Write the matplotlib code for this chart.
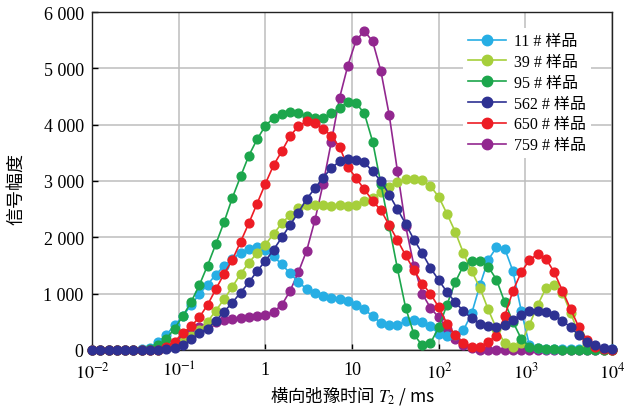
import numpy as np
import matplotlib
matplotlib.use("Agg")
import matplotlib.pyplot as plt
from matplotlib.lines import Line2D
from matplotlib.ticker import FixedLocator, FuncFormatter, NullLocator

plt.rcParams["mathtext.fontset"] = "stix"
SERIF = ["Liberation Serif", "DejaVu Serif"]
CJK = ["Noto Sans CJK SC", "DejaVu Sans"]

# T2 bins: 64 points, evenly spaced in log from 0.01 ms to 10^4 ms
t2 = np.logspace(-2, 4, 64)

s11 = [0, 0, 0, 0, 0, 0, 10,
       40, 140, 270, 440, 600, 800, 990, 1160, 1340, 1490, 1610, 1730, 1800,
       1830, 1780, 1660, 1520, 1360, 1210, 1080, 1010, 960, 930, 910, 870,
       800, 720, 600, 480, 450, 450, 510, 540, 500, 420, 290, 250, 260, 350,
       650, 1150, 1600, 1820, 1800, 1400, 700, 80,
       30, 20, 20, 20, 20, 20, 20, 20, 20, 20]
s39 = [0, 0, 0, 0, 0, 0, 0, 0, 0,
       30, 70, 150, 250, 350, 500, 700, 900, 1120, 1350, 1550, 1720, 1870,
       2060, 2250, 2400, 2520, 2580, 2580, 2570, 2560, 2580, 2560, 2580,
       2640, 2700, 2800, 2900, 2980, 3030, 3040, 3010, 2910, 2720, 2420,
       2100, 1720, 1400, 1100, 720, 380, 120, 50, 120, 450, 800, 1100, 1150,
       1020, 650, 280, 90, 20, 0, 0]
s95 = [0, 0, 0, 0, 0, 0, 0,
       20, 80, 200, 380, 600, 850, 1150, 1500, 1880, 2270, 2700, 3080, 3450,
       3740, 3980, 4120, 4190, 4220, 4210, 4150, 4110, 4110, 4200, 4300,
       4400, 4380, 4200, 3700, 2950, 2200, 1450, 750, 280, 80, 120, 400,
       800, 1200, 1500, 1580, 1580, 1480, 1250, 850, 500, 200, 60,
       30, 20, 10, 0, 0, 0, 0, 0, 0, 0]
s562 = [0, 0, 0, 0, 0, 0, 0, 0, 0,
        20, 40, 80, 190, 300, 380, 520, 680, 840, 1020, 1200, 1400, 1580,
        1780, 2000, 2220, 2440, 2680, 2870, 3060, 3230, 3350, 3390, 3380,
        3330, 3170, 3000, 2760, 2500, 2240, 1960, 1720, 1460, 1240, 1030,
        850, 690, 560, 470, 420, 410, 450, 540, 620, 690, 700, 680, 620, 520,
        400, 260, 150, 80, 40, 20]
s650 = [0, 0, 0, 0, 0, 0, 0, 0, 0,
        60, 150, 300, 420, 580, 800, 1080, 1350, 1600, 1920, 2250, 2600,
        2950, 3280, 3530, 3800, 3970, 4060, 4030, 3930, 3800, 3600, 3250,
        3050, 2850, 2650, 2480, 2220, 1950, 1680, 1420, 1180, 1000, 760, 470,
        270, 120, 60, 50, 150, 250, 600, 1050, 1380, 1600, 1700, 1620, 1380,
        1050, 720, 400, 180, 60, 10, 0]
s759 = [0, 0, 0, 0, 0, 0, 0, 0,
        20, 60, 120, 220, 320, 400, 450, 500, 530, 550, 570, 590, 600, 620,
        680, 800, 1050, 1380, 1760, 2300, 2950, 3700, 4480, 5050, 5500, 5660,
        5480, 4950, 4180, 3180, 2200, 1500, 1000, 750, 580, 380, 200, 80, 30,
        0, 0, 0, 0, 0, 0, 0, 0, 0, 0, 0, 0, 0, 0, 0, 0, 0]

labels = ["11 # 样品", "39 # 样品", "95 # 样品", "562 # 样品", "650 # 样品", "759 # 样品"]
series = [s11, s39, s95, s562, s650, s759]
colors = ["#27aee4", "#a6cf3b", "#1ca64c", "#2e3192", "#ed1c24", "#92278f"]
zorders = [4, 5, 6, 8, 7, 3]

fig = plt.figure(figsize=(6.24, 4.14), dpi=100)
ax = fig.add_axes([92 / 624, 1 - 351 / 414, 520 / 624, 338 / 414])

handles = []
for y, c, z, lab in zip(series, colors, zorders, labels):
    ax.plot(t2, y, "-o", color=c, lw=1.2, ms=6.3, mec=c, clip_on=False, zorder=z)
    handles.append(Line2D([], [], color=c, lw=1.2, marker="o", ms=7.5, label=lab))

ax.set_xscale("log")
ax.set_xlim(1e-2, 1e4)
ax.set_ylim(0, 6000)

xt = [1e-2, 1e-1, 1, 10, 1e2, 1e3, 1e4]
xt_labels = [r"$10^{-2}$", r"$10^{-1}$", "1", "10", r"$10^{2}$", r"$10^{3}$", r"$10^{4}$"]
ax.xaxis.set_major_locator(FixedLocator(xt))
ax.xaxis.set_minor_locator(NullLocator())
ax.set_xticklabels(xt_labels)
ax.set_yticks(range(0, 6001, 1000))
ax.yaxis.set_major_formatter(FuncFormatter(
    lambda v, p: f"{int(v):,}".replace(",", " ")))

ax.tick_params(direction="in", length=4, width=1, labelsize=13)
for lbl in ax.get_xticklabels() + ax.get_yticklabels():
    lbl.set_family(SERIF)
ax.tick_params(axis="x", pad=8)
ax.tick_params(axis="y", pad=6)

ax.grid(True, color="#bdbdbd", lw=1.1, zorder=0)
ax.set_axisbelow(True)
for sp in ax.spines.values():
    sp.set_linewidth(1.0)
    sp.set_color("#222222")

ax.set_ylabel("信号幅度", family=CJK, fontsize=13)
ax.yaxis.set_label_coords(-0.128, 0.48)
ax.set_xlabel(r"横向弛豫时间 $T_2$ / ms", family=CJK, fontsize=12.5)
ax.xaxis.set_label_coords(0.5, -0.1)

leg = ax.legend(handles=handles, loc="upper right",
                bbox_to_anchor=(0.975, 0.975), frameon=True, fancybox=False,
                edgecolor="none", facecolor="white", framealpha=1,
                prop={"family": ["Liberation Serif", "Noto Sans CJK SC"], "size": 11.5},
                handlelength=2.4, labelspacing=0.3, borderpad=0.3,
                handletextpad=0.5)
leg.set_zorder(10)

fig.savefig("out.png", dpi=100)
